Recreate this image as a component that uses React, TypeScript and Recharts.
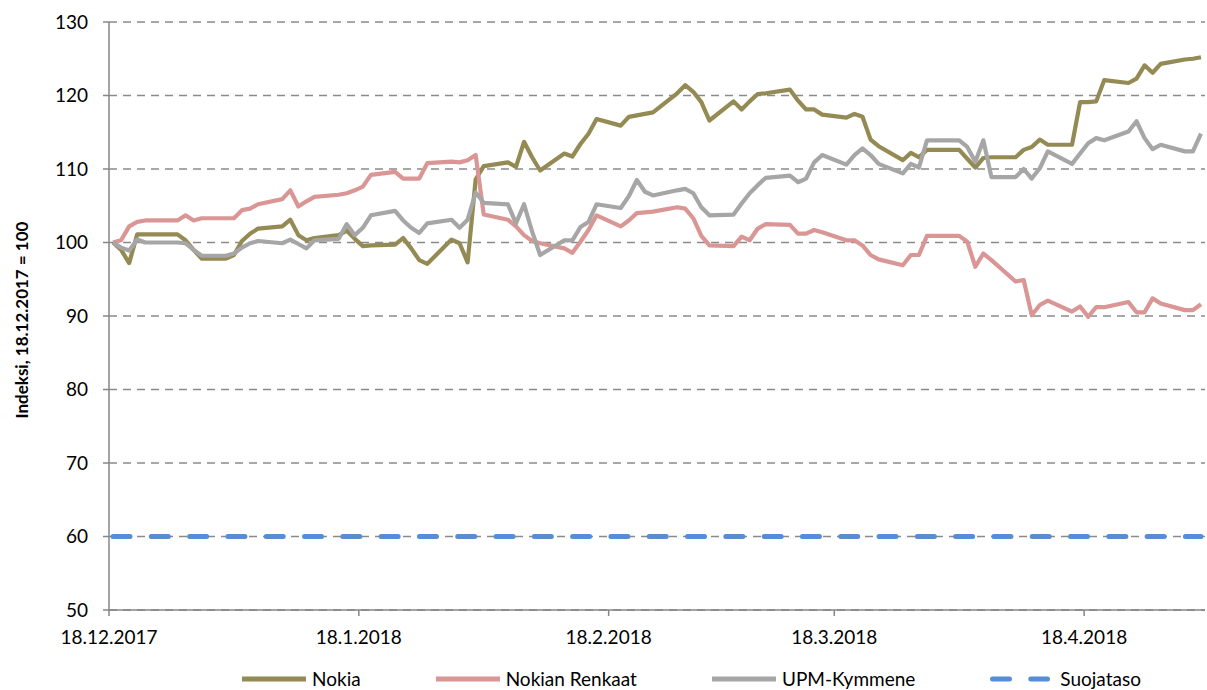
import { LineChart, Line, XAxis, YAxis, CartesianGrid } from 'recharts';

// trading days, counted in calendar days from 18.12.2017
const days = [
  0, 1, 2, 3, 4, 7, 8, 9, 10, 11, 14, 15, 16, 17, 18, 21, 22, 23, 24, 25,
  28, 29, 30, 31, 32, 35, 36, 37, 38, 39, 42, 43, 44, 45, 46, 49, 50, 51, 52, 53,
  56, 57, 58, 59, 60, 63, 64, 65, 66, 67, 70, 71, 72, 73, 74, 77, 78, 79, 80, 81,
  84, 85, 86, 87, 88, 91, 92, 93, 94, 95, 98, 99, 100, 101, 102, 105, 106, 107, 108, 109,
  112, 113, 114, 115, 116, 119, 120, 121, 122, 123, 126, 127, 128, 129, 130, 133, 134, 135,
];

const nokia = [
  100.0, 99.0, 97.2, 101.1, 101.1, 101.1, 101.1, 100.3, 99.0, 97.8,
  97.8, 98.3, 100.2, 101.2, 101.9, 102.2, 103.1, 101.0, 100.3, 100.6,
  101.0, 101.6, 100.5, 99.5, 99.6, 99.7, 100.6, 99.2, 97.6, 97.1,
  100.4, 99.9, 97.3, 108.6, 110.4, 110.9, 110.3, 113.7, 111.6, 109.8,
  112.1, 111.7, 113.4, 114.8, 116.8, 115.9, 117.1, 117.3, 117.5, 117.7,
  120.3, 121.4, 120.5, 119.1, 116.6, 119.2, 118.1, 119.2, 120.2, 120.3,
  120.8, 119.3, 118.1, 118.1, 117.4, 117.0, 117.5, 117.1, 114.0, 113.1,
  111.2, 112.2, 111.6, 112.6, 112.6, 112.6, 111.4, 110.2, 111.5, 111.6,
  111.6, 112.6, 113.0, 114.0, 113.3, 113.3, 119.1, 119.1, 119.2, 122.1,
  121.7, 122.3, 124.1, 123.1, 124.3, 124.9, 125.0, 125.2,
];

const nokianRenkaat = [
  100.0, 100.3, 102.2, 102.8, 103.0, 103.0, 103.0, 103.7, 103.0, 103.3,
  103.3, 103.3, 104.4, 104.6, 105.2, 105.9, 107.1, 104.9, 105.6, 106.2,
  106.5, 106.7, 107.1, 107.6, 109.2, 109.6, 108.7, 108.7, 108.7, 110.8,
  111.0, 110.9, 111.2, 111.9, 103.8, 103.1, 102.2, 101.0, 100.2, 99.9,
  99.2, 98.6, 100.1, 101.7, 103.7, 102.2, 103.0, 104.0, 104.1, 104.2,
  104.8, 104.6, 103.3, 100.9, 99.6, 99.5, 100.8, 100.3, 101.9, 102.5,
  102.4, 101.2, 101.2, 101.7, 101.4, 100.3, 100.3, 99.6, 98.3, 97.7,
  96.9, 98.3, 98.3, 100.9, 100.9, 100.9, 100.1, 96.7, 98.5, 97.6,
  94.7, 94.9, 90.1, 91.5, 92.1, 90.6, 91.3, 89.9, 91.2, 91.2,
  91.9, 90.5, 90.5, 92.4, 91.7, 90.8, 90.8, 91.6,
];

const upmKymmene = [
  100.0, 99.3, 98.9, 100.4, 100.0, 100.0, 100.0, 99.9, 99.0, 98.2,
  98.2, 98.5, 99.3, 99.9, 100.2, 99.9, 100.4, 99.8, 99.2, 100.3,
  100.5, 102.5, 101.0, 102.0, 103.7, 104.3, 103.0, 102.0, 101.3, 102.6,
  103.1, 102.0, 103.1, 106.8, 105.4, 105.2, 102.6, 105.2, 101.5, 98.3,
  100.3, 100.3, 102.1, 102.8, 105.2, 104.7, 106.3, 108.5, 106.9, 106.4,
  107.1, 107.3, 106.7, 104.8, 103.7, 103.8, 105.3, 106.7, 107.8, 108.8,
  109.1, 108.2, 108.7, 110.9, 111.9, 110.6, 111.9, 112.8, 111.9, 110.7,
  109.4, 110.7, 110.2, 113.9, 113.9, 113.9, 113.0, 111.0, 113.9, 108.9,
  108.9, 110.0, 108.7, 110.1, 112.4, 110.7, 112.1, 113.5, 114.2, 113.9,
  115.1, 116.5, 114.2, 112.7, 113.3, 112.4, 112.4, 114.8,
];

const suojatasoLevel = 60;

const tickDays = [0, 31, 62, 90, 121];
const tickLabels = ['18.12.2017', '18.1.2018', '18.2.2018', '18.3.2018', '18.4.2018'];
const yTicks = [50, 60, 70, 80, 90, 100, 110, 120, 130];

const seriesNames = ['Nokia', 'Nokian Renkaat', 'UPM-Kymmene', 'Suojataso'];
const seriesColors = ['#948A54', '#D99694', '#A6A6A6', '#558ED5'];

// points sit in the middle of their day on Excel's date axis
const data = days.map((d, i) => ({
  x: d + 0.5,
  nokia: nokia[i],
  nokianRenkaat: nokianRenkaat[i],
  upmKymmene: upmKymmene[i],
  suojataso: suojatasoLevel,
}));

const FONT = 'Lato, "Noto Sans", sans-serif';
const AXIS_GREY = '#868686';
const BLUE_DASH = '17 21.3';

const App = () => {
  return (
    <div style={{ position: 'absolute', left: 0, top: 0, width: 1207, height: 690, background: '#fff', fontFamily: FONT }}>
      <LineChart width={1207} height={690} data={data} margin={{ top: 22, right: 2, bottom: 40, left: 0 }}>
        <CartesianGrid vertical={false} stroke="#8A8A8A" strokeWidth={1.3} strokeDasharray="8 6" />
        <XAxis
          type="number"
          dataKey="x"
          domain={[0, 136]}
          ticks={tickDays}
          interval={0}
          height={40}
          tickSize={6}
          tickMargin={15}
          tickFormatter={(v: number) => tickLabels[tickDays.indexOf(v)] ?? ''}
          tick={{ fontSize: 19, fill: '#000', fontFamily: FONT }}
          axisLine={{ stroke: AXIS_GREY, strokeWidth: 1.5 }}
          tickLine={{ stroke: AXIS_GREY, strokeWidth: 1.5 }}
        />
        <YAxis
          type="number"
          domain={[50, 130]}
          ticks={yTicks}
          interval={0}
          width={109}
          tickSize={6}
          tickMargin={15}
          tick={{ fontSize: 19, fill: '#000', fontFamily: FONT }}
          axisLine={{ stroke: AXIS_GREY, strokeWidth: 1.5 }}
          tickLine={{ stroke: AXIS_GREY, strokeWidth: 1.5 }}
        />
        <Line type="linear" dataKey="nokia" name={seriesNames[0]} stroke={seriesColors[0]} strokeWidth={4.2} dot={false} strokeLinejoin="round" isAnimationActive={false} />
        <Line type="linear" dataKey="nokianRenkaat" name={seriesNames[1]} stroke={seriesColors[1]} strokeWidth={4.2} dot={false} strokeLinejoin="round" isAnimationActive={false} />
        <Line type="linear" dataKey="upmKymmene" name={seriesNames[2]} stroke={seriesColors[2]} strokeWidth={4.2} dot={false} strokeLinejoin="round" isAnimationActive={false} />
        <Line
          type="linear"
          dataKey="suojataso"
          name={seriesNames[3]}
          stroke={seriesColors[3]}
          strokeWidth={5}
          strokeDasharray={BLUE_DASH}
          strokeLinecap="round"
          dot={false}
          isAnimationActive={false}
        />
      </LineChart>

      {/* rotated y axis title */}
      <div
        style={{
          position: 'absolute',
          left: 22,
          top: 320,
          transform: 'translate(-50%, -50%) rotate(-90deg)',
          whiteSpace: 'nowrap',
          fontWeight: 700,
          fontSize: 17,
          lineHeight: '20px',
          color: '#000',
        }}
      >
        Indeksi, 18.12.2017 = 100
      </div>

      {/* legend */}
      <div style={{ position: 'absolute', left: 242, top: 667, height: 24, display: 'flex', alignItems: 'center', gap: 75, fontSize: 19, color: '#000' }}>
        {seriesNames.map((name, i) => (
          <div key={name} style={{ display: 'flex', alignItems: 'center' }}>
            <svg width={64} height={10}>
              {i === 3 ? (
                <line x1={2.5} x2={57.5} y1={5} y2={5} stroke={seriesColors[i]} strokeWidth={5} strokeLinecap="round" strokeDasharray={BLUE_DASH} />
              ) : (
                <line x1={0} x2={64} y1={5} y2={5} stroke={seriesColors[i]} strokeWidth={5} />
              )}
            </svg>
            <span style={{ marginLeft: 6, lineHeight: '24px' }}>{name}</span>
          </div>
        ))}
      </div>
    </div>
  );
};

export default App;
